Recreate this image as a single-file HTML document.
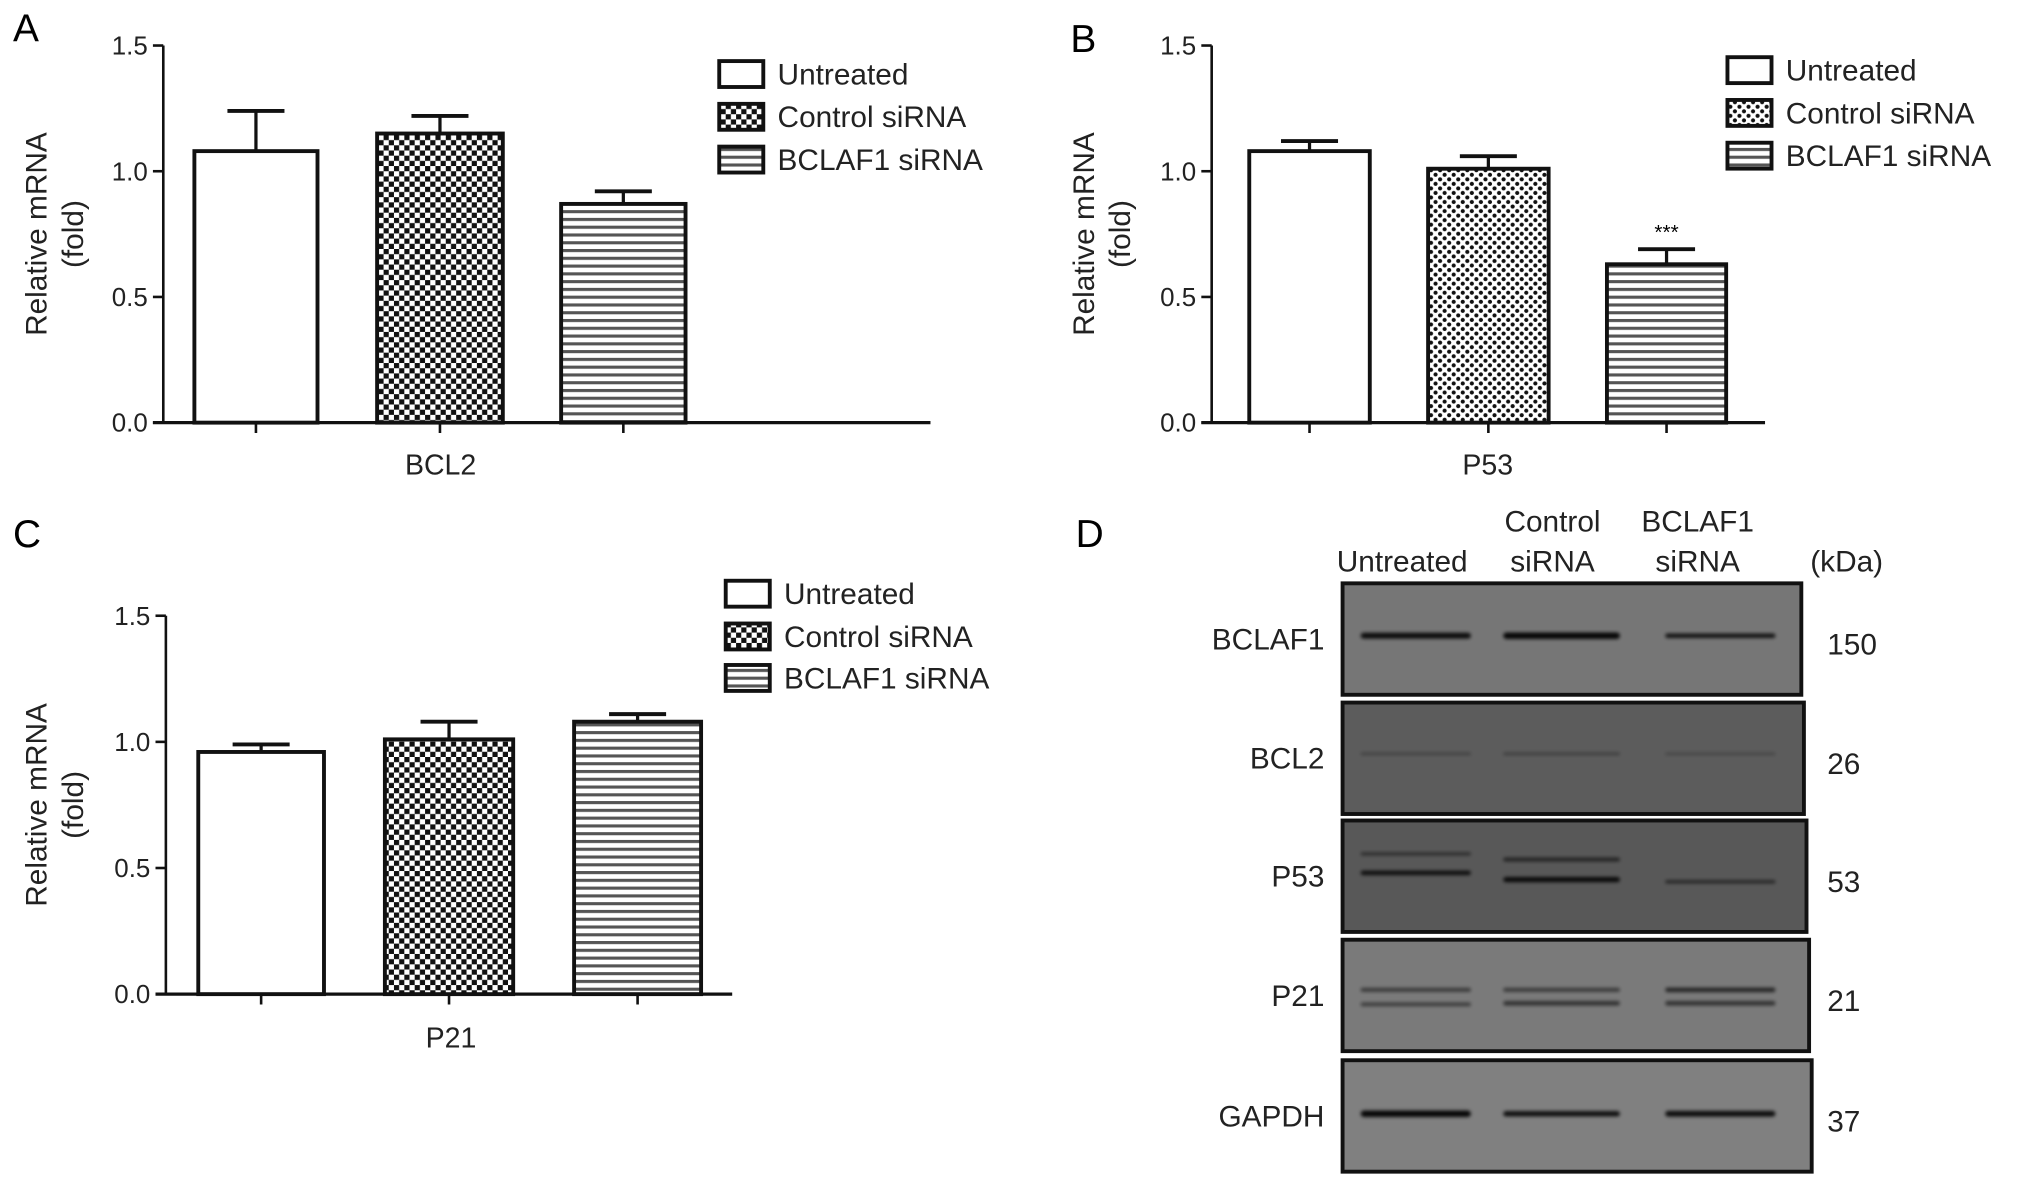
<!DOCTYPE html>
<html><head><meta charset="utf-8">
<style>
html,body{margin:0;padding:0;background:#fff;}
svg{display:block;font-family:"Liberation Sans",sans-serif;}
</style></head>
<body>
<svg id="fig" width="2032" height="1190" viewBox="0 0 1568 918" xmlns="http://www.w3.org/2000/svg">
<defs>
 <pattern id="check" width="8" height="8" patternUnits="userSpaceOnUse">
  <rect width="8" height="8" fill="#fff"/>
  <rect width="4" height="4" fill="#111"/><rect x="4" y="4" width="4" height="4" fill="#111"/>
 </pattern>
 <pattern id="dots" width="7" height="7" patternUnits="userSpaceOnUse">
  <rect width="7" height="7" fill="#fff"/>
  <circle cx="1.75" cy="1.75" r="1.6" fill="#111"/><circle cx="5.25" cy="5.25" r="1.6" fill="#111"/>
 </pattern>
 <pattern id="stripes" width="6" height="6" patternUnits="userSpaceOnUse">
  <rect width="6" height="6" fill="#fff"/>
  <rect y="0" width="6" height="2.4" fill="#555"/>
 </pattern>
 <filter id="blur" filterUnits="userSpaceOnUse" x="1000" y="400" width="450" height="518"><feGaussianBlur stdDeviation="1.4"/></filter>
</defs>
<g id="charts"></g>
<g id="blot"></g>
</svg>
<script>
const NS="http://www.w3.org/2000/svg";
const groups=["Untreated","Control siRNA","BCLAF1 siRNA"];
const yTicks=[0.0,0.5,1.0,1.5];
const yTickLabels=["0.0","0.5","1.0","1.5"];
const bcl2Values=[1.08,1.15,0.87];
const bcl2Errors=[0.16,0.07,0.05];
const p53Values=[1.08,1.01,0.63];
const p53Errors=[0.04,0.05,0.06];
const p21Values=[0.96,1.01,1.08];
const p21Errors=[0.03,0.07,0.03];

function el(tag,attrs,parent,text){const e=document.createElementNS(NS,tag);for(const k in attrs)e.setAttribute(k,attrs[k]);if(text!==undefined)e.textContent=text;parent.appendChild(e);return e;}

const panels=[
 {id:"a",letter:"A",lx:10,ly:32,ax:126,y0:326,y15:35,xEnd:718,bars:[[150,245],[291,388],[433,529]],vals:bcl2Values,errs:bcl2Errors,pat:"check",gene:"BCL2",gx:340,gy:366,ylx:28,legX:555,legY:[57,90,123],stars:null},
 {id:"b",letter:"B",lx:826,ly:40,ax:935,y0:326,y15:35,xEnd:1362,bars:[[964,1057],[1102,1195],[1240,1332]],vals:p53Values,errs:p53Errors,pat:"dots",gene:"P53",gx:1148,gy:366,ylx:836,legX:1333,legY:[54,87,120],stars:2},
 {id:"c",letter:"C",lx:10,ly:422,ax:128,y0:767,y15:475,xEnd:565,bars:[[153,250],[297,396],[443,541]],vals:p21Values,errs:p21Errors,pat:"check",gene:"P21",gx:348,gy:808,ylx:28,legX:560,legY:[458,491,523],stars:null},
];
const root=document.getElementById("charts");
panels.forEach(p=>{
 const g=el("g",{},root);
 
 
 const Y=v=>p.y0-(v/1.5)*(p.y0-p.y15);
 const t=el("text",{x:p.lx,y:p.ly,"font-size":30},g,p.letter);
 
 
 const ya=el("line",{x1:p.ax,x2:p.ax,y1:p.y15,y2:p.y0,stroke:"#111","stroke-width":2},g);
 
 
 yTicks.forEach((v,i)=>{
  el("line",{x1:p.ax-8,x2:p.ax,y1:Y(v),y2:Y(v),stroke:"#111","stroke-width":2},g);
  const tl=el("text",{x:p.ax-12,y:Y(v)+7,"font-size":20,"text-anchor":"end",fill:"#222"},g,yTickLabels[i]);
  
  
 });
 const xa=el("line",{x1:p.ax-8,x2:p.xEnd,y1:p.y0,y2:p.y0,stroke:"#111","stroke-width":2.5},g);
 
 
 const yl=el("text",{transform:`translate(${p.ylx+8},${(p.y0+p.y15)/2}) rotate(-90)`,"font-size":23,"text-anchor":"middle",fill:"#222"},g);
 
 
 el("tspan",{x:0,y:0},yl,"Relative mRNA");
 el("tspan",{x:0,y:28},yl,"(fold)");
 const fills=["#fff","url(#"+p.pat+")","url(#stripes)"];
 p.bars.forEach((b,i)=>{
  const cx=(b[0]+b[1])/2, top=Y(p.vals[i]), et=Y(p.vals[i]+p.errs[i]);
  el("line",{x1:cx,x2:cx,y1:top,y2:et,stroke:"#111","stroke-width":2.5},g);
  el("line",{x1:cx-22,x2:cx+22,y1:et,y2:et,stroke:"#111","stroke-width":3},g);
  const r=el("rect",{x:b[0],y:top,width:b[1]-b[0],height:p.y0-top,fill:fills[i],stroke:"#111","stroke-width":3},g);
  
  
  el("line",{x1:cx,x2:cx,y1:p.y0,y2:p.y0+8,stroke:"#111","stroke-width":2},g);
  if(p.stars===i){
   const s=el("text",{x:cx,y:et-8,"font-size":16,"text-anchor":"middle"},g,"***");
   
   
  }
 });
 const gl=el("text",{x:p.gx,y:p.gy,"font-size":22,"text-anchor":"middle",fill:"#222"},g,p.gene);
 
 
 groups.forEach((name,i)=>{
  const le=el("g",{},g);
  
  
  el("rect",{x:p.legX,y:p.legY[i]-10,width:34,height:20,fill:fills[i],stroke:"#111","stroke-width":3},le);
  el("text",{x:p.legX+45,y:p.legY[i]+8,"font-size":23,fill:"#222"},le,name);
 });
});

const blotRoot=document.getElementById("blot");
const blotLabels=["BCLAF1","BCL2","P53","P21","GAPDH"];
const blotKDa=["150","26","53","21","37"];
const blotTops=[450,542,633,725,818];
const blotRight=[1390,1392,1394,1396,1398];
const blotFill=["#767676","#5c5c5c","#585858","#7a7a7a","#808080"];
const laneX=[[1050,1135],[1160,1250],[1285,1370]];
const bandsByBlot=[
 [[0.47,4.5,0.9],[0.47,5,0.95],[0.47,3.5,0.85]],
 [[0.46,2,0.3],[0.46,2,0.35],[0.46,2,0.25]],
 [[0.30,2.5,0.5],[0.47,3.5,0.85],[0.35,3,0.6],[0.53,4,0.9],[0.55,2.5,0.6]],
 [[0.45,3,0.55],[0.58,3,0.5],[0.45,3,0.55],[0.57,3.5,0.6],[0.45,3.5,0.7],[0.57,3.5,0.6]],
 [[0.48,5,0.95],[0.48,4,0.9],[0.48,4.5,0.9]]
];
const bandLane=[[0,1,2],[0,1,2],[0,0,1,1,2],[0,0,1,1,2,2],[0,1,2]];
const D=el("text",{x:830,y:422,"font-size":30},blotRoot,"D");


[["Untreated",1082,441],["Control",1198,410],["siRNA",1198,441],["BCLAF1",1310,410],["siRNA",1310,441],["(kDa)",1425,441]].forEach(h=>{
 const t=el("text",{x:h[1],y:h[2],"font-size":23,"text-anchor":"middle",fill:"#222"},blotRoot,h[0]);
 
 
});
blotLabels.forEach((name,i)=>{
 const top=blotTops[i],h=86;
 const r=el("rect",{x:1036,y:top,width:blotRight[i]-1036,height:h,fill:blotFill[i],stroke:"#111","stroke-width":3},blotRoot);
 
 
 bandsByBlot[i].forEach((b,j)=>{
  const ln=laneX[bandLane[i][j]];
  const band=el("rect",{x:ln[0],y:top+b[0]*h-b[1]/2,width:ln[1]-ln[0],height:b[1],rx:b[1]/2,fill:"#000","fill-opacity":b[2],filter:"url(#blur)"},blotRoot);
  
  
 });
 const l=el("text",{x:1022,y:top+h/2+8,"font-size":23,"text-anchor":"end",fill:"#222"},blotRoot,name);
 
 
 const k=el("text",{x:1410,y:top+h/2+12,"font-size":23,fill:"#222"},blotRoot,blotKDa[i]);
 
 
});
</script>
</body></html>
